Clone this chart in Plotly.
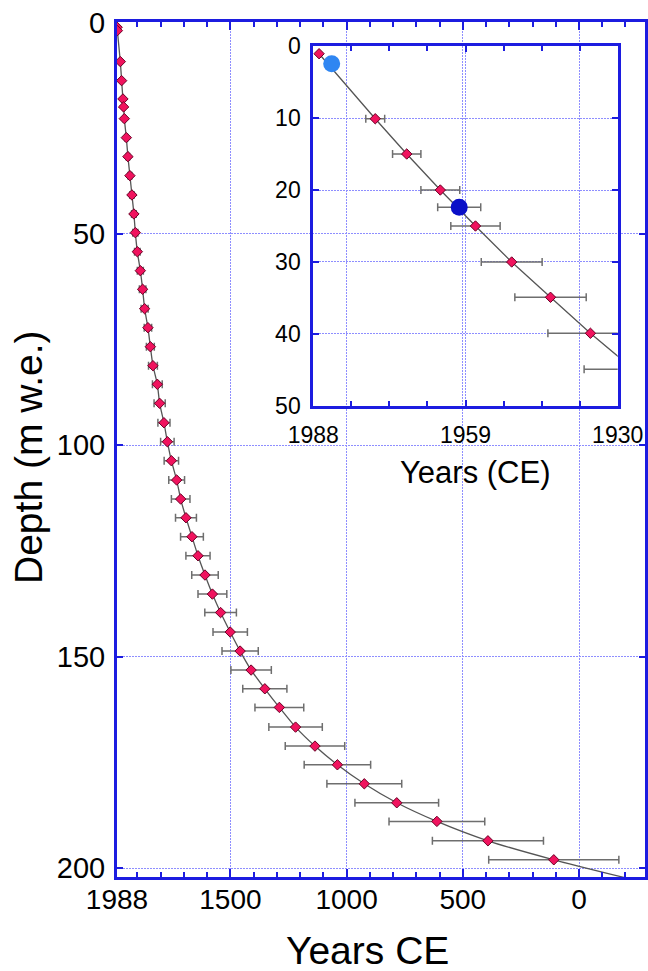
import plotly.graph_objects as go

# ---------------- data ----------------
# main panel: depth (m w.e.) vs year CE with symmetric age uncertainty (years)
main_depth = [1.14, 1.94, 9.27, 13.77, 18.1, 19.99, 22.76, 27.25, 31.74, 36.24,
              40.80, 45.30, 49.72, 54.22, 58.71, 63.11, 67.70, 72.19, 76.69, 81.18,
              85.58, 90.08, 94.67, 99.16, 103.65, 108.22, 112.72, 117.14, 121.63, 126.13,
              130.69, 135.19, 139.56, 144.17, 148.67, 153.16, 157.59, 161.99, 166.65, 171.14,
              175.56, 180.06, 184.55, 188.95, 193.54, 198.03]
main_year = [1987.5, 1986.5, 1973.7, 1968.1, 1962.5, 1959.5, 1956.5, 1947.9, 1941.0, 1932.4,
             1923.8, 1915.2, 1909.1, 1900.5, 1887.6, 1877.7, 1869.1, 1854.9, 1844.5, 1833.3,
             1814.4, 1804.5, 1786.0, 1771.3, 1754.1, 1731.3, 1714.0, 1691.2, 1665.4, 1639.5,
             1609.4, 1577.5, 1542.2, 1500.9, 1458.2, 1410.9, 1351.9, 1289.4, 1219.6, 1136.1,
             1039.6, 923.8, 784.2, 611.5, 391.9, 108.5]
main_err = [0.5, 0.5, 2, 2.5, 3.5, 4, 4.5, 5.5, 7, 8,
            9, 10, 11, 12, 13, 14, 15, 16, 17, 19,
            21, 24, 26, 29, 31, 34, 40, 45, 49, 52,
            57, 62, 68, 74, 78, 87, 95, 105, 115, 128,
            143, 161, 180, 206, 239, 280]
# age-model curve end points (surface and continuation past the last sample)
model_top = (1988, 0.0)
model_end = (-326, 204.0)

# inset panel: upper 50 m
inset_depth = [1.07, 10.1, 15.0, 20.0, 25.0, 30.0, 34.9, 39.9, 44.9]
inset_year = [1986.9, 1976.2, 1970.2, 1963.8, 1957.1, 1950.2, 1942.8, 1935.2, 1927.0]
inset_err = [0, 1.8, 2.7, 3.7, 4.7, 5.8, 6.8, 8.1, 9.4]
# reference horizons in the inset
horizon_light = dict(year=[1984.5], depth=[2.46])
horizon_dark = dict(year=[1960.2], depth=[22.4], err=[4.1])

main_xticks = [1988, 1500, 1000, 500, 0]
main_yticks = [0, 50, 100, 150, 200]
inset_xticks = [1988, 1959, 1930]
inset_yticks = [0, 10, 20, 30, 40, 50]

# ---------------- styles ----------------
FRAME = '#1c1ce0'
GRID = '#8e8eff'
PINK = '#f0135e'
PINK_EDGE = '#6a0025'
LINE = '#555555'
ERR = '#6e6e6e'
FONT = 'Liberation Sans, Arial, sans-serif'

model_x = [model_top[0]] + main_year + [model_end[0]]
model_y = [model_top[1]] + main_depth + [model_end[1]]

fig = go.Figure()

fig.add_trace(go.Scatter(x=model_x, y=model_y, mode='lines',
                         line=dict(color=LINE, width=1.3, shape='spline', smoothing=0.6),
                         hoverinfo='skip'))
fig.add_trace(go.Scatter(x=main_year, y=main_depth, mode='markers',
                         marker=dict(symbol='diamond', size=8, color=PINK,
                                     line=dict(color=PINK_EDGE, width=1)),
                         error_x=dict(type='data', array=main_err, color=ERR,
                                      thickness=1.5, width=4)))

# inset
fig.add_trace(go.Scatter(x=inset_year, y=inset_depth, mode='lines',
                         line=dict(color=LINE, width=1.3),
                         xaxis='x2', yaxis='y2', hoverinfo='skip'))
fig.add_trace(go.Scatter(x=inset_year, y=inset_depth, mode='markers',
                         marker=dict(symbol='diamond', size=8, color=PINK,
                                     line=dict(color=PINK_EDGE, width=1)),
                         error_x=dict(type='data', array=inset_err, color=ERR,
                                      thickness=1.5, width=4),
                         xaxis='x2', yaxis='y2'))
fig.add_trace(go.Scatter(x=horizon_light['year'], y=horizon_light['depth'], mode='markers',
                         marker=dict(symbol='circle', size=17, color='#2f86f2'),
                         xaxis='x2', yaxis='y2'))
fig.add_trace(go.Scatter(x=horizon_dark['year'], y=horizon_dark['depth'], mode='markers',
                         marker=dict(symbol='circle', size=17, color='#0a0fc8'),
                         error_x=dict(type='data', array=horizon_dark['err'], color=ERR,
                                      thickness=1.5, width=4),
                         xaxis='x2', yaxis='y2'))

axis_common = dict(showline=True, linecolor=FRAME, linewidth=3, mirror='allticks',
                   ticks='inside', tickcolor=FRAME, tickwidth=1.5,
                   showgrid=True, gridcolor=GRID, griddash='2px,1px', gridwidth=1.2,
                   zeroline=False, automargin=False,
                   tickfont=dict(family=FONT, color='black'))

fig.update_layout(
    width=648, height=971, autosize=False,
    margin=dict(l=117, r=3, t=22, b=94, autoexpand=False),
    paper_bgcolor='white', plot_bgcolor='rgba(0,0,0,0)',
    showlegend=False,
    font=dict(family=FONT, color='black'),
    xaxis=dict(**axis_common, range=[1988, -284], tickmode='array',
               tickvals=main_xticks, ticktext=[str(v) for v in main_xticks],
               ticklen=8, ticklabelstandoff=-5,
               minor=dict(tickmode='array', tickvals=list(range(-200, 2000, 100)),
                          ticks='inside', ticklen=5, tickcolor=FRAME, showgrid=False)),
    yaxis=dict(**axis_common, range=[202.1, -0.1], tickmode='array',
               tickvals=main_yticks, ticktext=[str(v) for v in main_yticks],
               ticklen=6, ticklabelstandoff=3),
    xaxis2=dict(**axis_common, domain=[0.3718, 0.9483], anchor='y2',
                range=[1988, 1930], tickmode='array', tickvals=inset_xticks,
                ticktext=[str(v) for v in inset_xticks], ticklen=6,
                ticklabelstandoff=6,
                minor=dict(tickmode='array', tickvals=[1930 + 7.25 * k for k in range(9)],
                           ticks='inside', ticklen=5, tickcolor=FRAME, showgrid=False)),
    yaxis2=dict(**axis_common, domain=[0.5509, 0.9719], anchor='x2',
                range=[50, 0], tickmode='array', tickvals=inset_yticks,
                ticktext=[str(v) for v in inset_yticks], ticklen=6,
                ticklabelstandoff=5),
)
fig.update_layout(xaxis_tickfont_size=28, yaxis_tickfont_size=29,
                  xaxis2_tickfont_size=23, yaxis2_tickfont_size=23)

fig.add_annotation(text='Depth (m w.e.)', xref='paper', yref='paper',
                   x=-0.1686, y=0.4912, textangle=-90, showarrow=False,
                   font=dict(size=39, family=FONT, color='black'),
                   xanchor='center', yanchor='middle')
fig.add_annotation(text='Years CE', xref='paper', yref='paper',
                   x=0.4744, y=-0.0854, showarrow=False,
                   font=dict(size=39, family=FONT, color='black'),
                   xanchor='center', yanchor='middle')
fig.add_annotation(text='Years (CE)', xref='paper', yref='paper',
                   x=0.678, y=0.4731, showarrow=False,
                   font=dict(size=31, family=FONT, color='black'),
                   xanchor='center', yanchor='middle')

fig.write_html('out.html', config={'displayModeBar': False},
               post_script="document.body.style.margin='0';document.body.style.overflow='hidden';")
